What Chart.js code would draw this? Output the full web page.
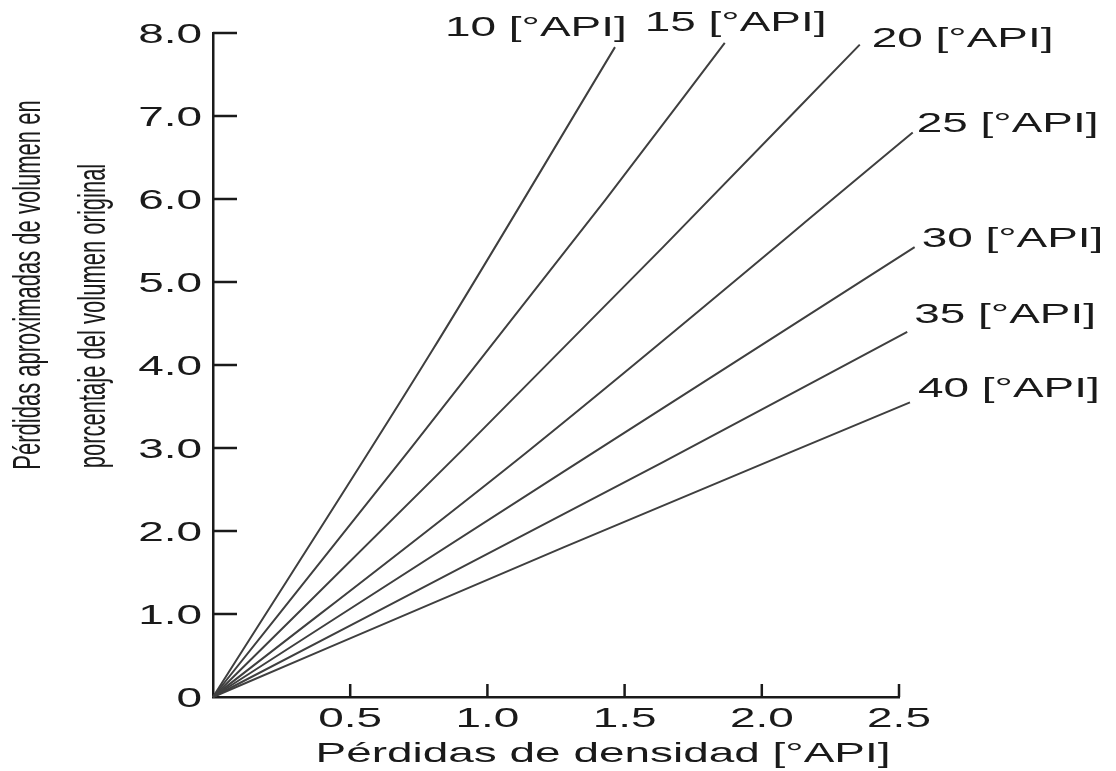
<!DOCTYPE html>
<html>
<head>
<meta charset="utf-8">
<script src="https://cdn.jsdelivr.net/npm/chart.js@4.4.1/dist/chart.umd.min.js"></script>
<style>
    html, body { margin: 0; padding: 0; background: #ffffff; }
    canvas { display: block; }
</style>
</head>
<body>
<canvas id="loss-chart" width="1116" height="771"></canvas>
<script>
// Curves: x = density loss [°API], y = approx. volume loss [% of original volume]
const apiGrades = ['10', '15', '20', '25', '30', '35', '40'];
const curve10 = [[0, 0], [0.80, 4.18], [1.465, 7.83]];
const curve15 = [[0, 0], [0.717, 2.98], [1.43, 5.99], [1.865, 7.88]];
const curve20 = [[0, 0], [0.91, 2.98], [1.64, 5.42], [2.357, 7.86]];
const curve25 = [[0, 0], [1.155, 2.98], [2.55, 6.80]];
const curve30 = [[0, 0], [1.275, 2.71], [2.557, 5.42]];
const curve35 = [[0, 0], [1.64, 2.83], [2.53, 4.40]];
const curve40 = [[0, 0], [1.275, 1.80], [2.54, 3.55]];
const curves = [curve10, curve15, curve20, curve25, curve30, curve35, curve40];

const xTicks = [0.5, 1.0, 1.5, 2.0, 2.5];
const xTickLabels = ['0.5', '1.0', '1.5', '2.0', '2.5'];
const yTicks = [0, 1, 2, 3, 4, 5, 6, 7, 8];
const yTickLabels = ['0', '1.0', '2.0', '3.0', '4.0', '5.0', '6.0', '7.0', '8.0'];

const xTitle = 'Pérdidas de densidad [°API]';
const yTitleLines = ['Pérdidas aproximadas de volumen en', 'porcentaje del volumen original'];

// label placement relative to the curve end (px), style only
const labelOffsets = [[-170, -21], [-80, -22], [12, -8], [4, -11], [7, -10], [7, -19], [8, -15]];

const INK = '#1a1a1a';
const LINE_GREY = '#3f3f3f';
const STRETCH = 1.64;   // the source art is stretched horizontally
const FONT = '28px "Liberation Sans", Arial, sans-serif';

function stretchedText(ctx, text, x, y, align) {
    ctx.save();
    ctx.translate(x, y);
    ctx.scale(STRETCH, 1);
    ctx.textAlign = align;
    ctx.textBaseline = 'alphabetic';
    ctx.fillText(text, 0, 0);
    ctx.restore();
}

const annotate = {
    id: 'annotate',
    afterDraw(chart) {
        const ctx = chart.ctx;
        const xs = chart.scales.x, ys = chart.scales.y;
        const area = chart.chartArea;

        ctx.save();
        ctx.strokeStyle = INK;
        ctx.lineWidth = 2.5;
        ctx.fillStyle = INK;
        ctx.font = FONT;

        // inward tick marks
        yTicks.forEach(v => {
            if (v === 0) return;
            const py = ys.getPixelForValue(v);
            ctx.beginPath();
            ctx.moveTo(area.left, py);
            ctx.lineTo(area.left + 24, py);
            ctx.stroke();
        });
        xTicks.forEach(v => {
            const px = xs.getPixelForValue(v);
            ctx.beginPath();
            ctx.moveTo(px, area.bottom);
            ctx.lineTo(px, area.bottom - 13);
            ctx.stroke();
        });

        // tick labels
        yTicks.forEach((v, i) => {
            stretchedText(ctx, yTickLabels[i], area.left - 11, ys.getPixelForValue(v) + 10, 'right');
        });
        xTicks.forEach((v, i) => {
            stretchedText(ctx, xTickLabels[i], xs.getPixelForValue(v), area.bottom + 30, 'center');
        });

        // axis titles
        stretchedText(ctx, xTitle, (area.left + area.right) / 2 + 47, area.bottom + 65, 'center');

        ctx.font = '22px "Liberation Sans", Arial, sans-serif';
        [[40, 285], [105, 316]].forEach(([bx, cy], i) => {
            ctx.save();
            ctx.translate(bx, cy);
            ctx.scale(1.8, 1);
            ctx.rotate(-Math.PI / 2);
            ctx.textAlign = 'center';
            ctx.textBaseline = 'alphabetic';
            ctx.fillText(yTitleLines[i], 0, 0);
            ctx.restore();
        });

        // curve labels at the end of each curve
        ctx.font = FONT;
        curves.forEach((curve, i) => {
            const last = curve[curve.length - 1];
            const px = xs.getPixelForValue(last[0]);
            const py = ys.getPixelForValue(last[1]);
            const [dx, dy] = labelOffsets[i];
            stretchedText(ctx, apiGrades[i] + ' [°API]', px + dx, py + dy + 10, 'left');
        });
        ctx.restore();
    }
};

new Chart(document.getElementById('loss-chart'), {
    type: 'scatter',
    data: {
        datasets: curves.map((curve, i) => ({
            label: apiGrades[i] + ' [°API]',
            data: curve.map(p => ({ x: p[0], y: p[1] })),
            showLine: true,
            borderColor: LINE_GREY,
            borderWidth: 2,
            pointRadius: 0,
            cubicInterpolationMode: 'monotone',
            clip: false
        }))
    },
    options: {
        responsive: false,
        animation: false,
        devicePixelRatio: 1,
        layout: { padding: { left: 213, right: 217, top: 33, bottom: 74 } },
        plugins: { legend: { display: false }, tooltip: { enabled: false } },
        scales: {
            x: {
                type: 'linear', min: 0, max: 2.5,
                grid: { display: false, drawTicks: false },
                ticks: { display: false },
                border: { display: true, color: INK, width: 2.5 }
            },
            y: {
                type: 'linear', min: 0, max: 8,
                grid: { display: false, drawTicks: false },
                ticks: { display: false },
                border: { display: true, color: INK, width: 2.5 }
            }
        }
    },
    plugins: [annotate]
});
</script>
</body>
</html>
